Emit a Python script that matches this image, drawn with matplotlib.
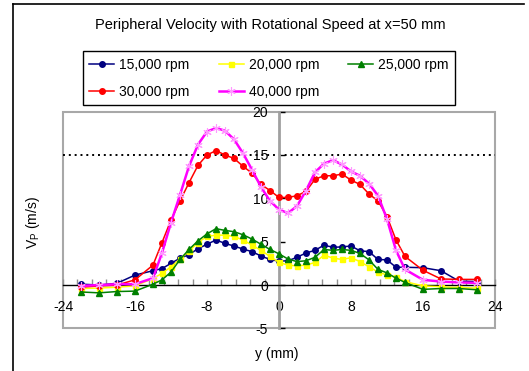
import matplotlib
matplotlib.use("Agg")
import matplotlib.pyplot as plt
from matplotlib.lines import Line2D
from matplotlib.patches import Rectangle
from matplotlib.ticker import MultipleLocator

plt.rcParams['font.family'] = ['Liberation Sans', 'DejaVu Sans']
plt.rcParams['axes.unicode_minus'] = False

# ---- data ----
y_pos = [-22, -20, -18, -16, -14, -13, -12, -11, -10, -9, -8, -7, -6, -5, -4, -3, -2, -1,
         0, 1, 2, 3, 4, 5, 6, 7, 8, 9, 10, 11, 12, 13, 14, 16, 18, 20, 22]

v_15000 = [0.1, 0.0, 0.2, 1.15, 1.65, 1.9, 2.5, 3.1, 3.5, 4.2, 4.7, 5.2, 4.8, 4.5, 4.15, 3.85, 3.35, 2.95,
           2.75, 2.8, 3.2, 3.7, 4.0, 4.6, 4.35, 4.4, 4.5, 3.95, 3.85, 2.95, 2.9, 2.05, 2.05, 2.0, 1.65, 0.45, 0.4]
v_20000 = [-0.4, -0.35, -0.25, -0.1, 0.75, 1.35, 2.1, 3.0, 3.9, 4.9, 5.6, 5.75, 5.75, 5.6, 5.2, 4.6, 4.0, 3.3,
           2.6, 2.3, 2.2, 2.3, 2.6, 3.45, 3.1, 2.95, 3.15, 2.7, 2.1, 1.5, 1.15, 0.9, 0.4, -0.1, -0.2, -0.3, -0.35]
v_25000 = [-0.8, -0.9, -0.75, -0.7, 0.1, 0.6, 1.5, 2.95, 4.1, 5.1, 5.9, 6.5, 6.3, 6.15, 5.8, 5.3, 4.7, 4.1,
           3.6, 3.0, 2.7, 2.8, 3.2, 4.1, 4.0, 4.1, 4.0, 3.65, 2.9, 1.8, 1.4, 0.8, 0.3, -0.5, -0.4, -0.4, -0.55]
v_30000 = [-0.25, -0.1, 0.0, 0.6, 2.3, 4.9, 7.5, 9.7, 11.8, 13.8, 15.0, 15.5, 15.0, 14.6, 13.7, 12.9, 11.6, 10.9,
           10.1, 10.1, 10.3, 10.8, 12.2, 12.6, 12.6, 12.8, 12.1, 11.6, 10.5, 9.7, 7.9, 5.2, 3.3, 1.7, 0.7, 0.65, 0.65]
v_40000 = [-0.1, 0.0, 0.1, 0.1, 0.8, 3.7, 7.2, 10.4, 13.7, 16.2, 17.7, 18.1, 17.8, 16.8, 15.2, 13.3, 11.3, 9.7,
           8.7, 8.3, 9.1, 10.9, 13.0, 14.0, 14.4, 13.9, 13.1, 12.6, 11.7, 10.3, 7.6, 4.0, 1.8, 0.6, 0.4, 0.3, 0.25]

series_labels = ["15,000 rpm", "20,000 rpm", "25,000 rpm", "30,000 rpm", "40,000 rpm"]
ref_level = 15
x_ticks = [-24, -16, -8, 0, 8, 16, 24]
x_ticklabels = ["-24", "-16", "-8", "0", "8", "16", "24"]
y_ticks = [-5, 0, 5, 10, 15, 20]
y_ticklabels = ["-5", "0", "5", "10", "15", "20"]

# ---- figure ----
W, H = 529, 371
fig = plt.figure(figsize=(W / 100, H / 100), dpi=100)
ax = fig.add_axes([63 / W, 1 - 328.4 / H, 432 / W, (328.4 - 111.6) / H])
ax.set_xlim(-24, 24)
ax.set_ylim(-5, 20)

ax.axhline(ref_level, color='black', lw=1.4, ls=(0, (1, 2)), zorder=1)

ax.plot(y_pos, v_15000, color='#000080', lw=1.1, marker='o', ms=4.0, label=series_labels[0], zorder=3)
ax.plot(y_pos, v_20000, color='#ffff00', lw=1.1, marker='s', ms=3.6, label=series_labels[1], zorder=3)
ax.plot(y_pos, v_25000, color='#008000', lw=1.1, marker='^', ms=4.4, label=series_labels[2], zorder=3)
ax.plot(y_pos, v_30000, color='#ff0000', lw=1.1, marker='o', ms=4.0, label=series_labels[3], zorder=4)
ax.plot(y_pos, v_40000, color='#ff00ff', lw=1.8, marker=(6, 2, 0), ms=6, mec='#ff99ff', mew=0.8,
        label=series_labels[4], zorder=5)

# axes lines
ax.spines['top'].set_visible(False)
ax.spines['right'].set_visible(False)
ax.spines['left'].set_position(('data', 0))
ax.spines['left'].set_color('#a0a0a0')
ax.spines['left'].set_linewidth(2)
ax.spines['bottom'].set_position(('data', 0))
ax.spines['bottom'].set_color('black')
ax.spines['bottom'].set_linewidth(1)
ax.add_patch(Rectangle((0, 0), 1, 1, transform=ax.transAxes, fill=False,
                       edgecolor='#a8a8a8', lw=1.5, clip_on=False, zorder=0))

ax.set_xticks(x_ticks)
ax.set_xticklabels(x_ticklabels)
ax.xaxis.set_minor_locator(MultipleLocator(1.6))
ax.tick_params(axis='x', which='both', direction='in', length=4, width=1, color='#909090',
               pad=11, labelsize=10)
ax.set_yticks(y_ticks)
ax.set_yticklabels(y_ticklabels)
ax.tick_params(axis='y', which='major', direction='in', length=4, width=1, color='black',
               pad=8, labelsize=10)

ax.set_xlabel("y (mm)", fontsize=10)
ax.xaxis.set_label_coords(0.495, -0.085)
ax.set_ylabel("V$_\\mathregular{P}$ (m/s)", fontsize=10)
ax.yaxis.set_label_coords(-0.049, 0.49)

fig.text(270 / W, 1 - 25 / H, "Peripheral Velocity with Rotational Speed at x=50 mm",
         ha='center', va='center', fontsize=10.5)

handles, labels = ax.get_legend_handles_labels()
order = [0, 3, 1, 4, 2]
leg = fig.legend([handles[i] for i in order], [labels[i] for i in order],
                 loc='lower left', bbox_to_anchor=(83 / W, 1 - 105 / H, (455 - 83) / W, 53 / H),
                 bbox_transform=fig.transFigure, mode='expand', ncol=3, borderaxespad=0,
                 fancybox=False, framealpha=1, edgecolor='black', fontsize=10,
                 handlelength=1.8, handletextpad=0.35, labelspacing=0.95, borderpad=0.45,
                 columnspacing=1.0)
leg.get_frame().set_linewidth(1)

# outer border (top and left only)
fig.add_artist(Line2D([13 / W, 524 / W], [1 - 4 / H, 1 - 4 / H], color='black', lw=1.2,
                      transform=fig.transFigure))
fig.add_artist(Line2D([13 / W, 13 / W], [1 - 4 / H, 0], color='black', lw=1.2,
                      transform=fig.transFigure))

fig.savefig("out.png", dpi=100)
